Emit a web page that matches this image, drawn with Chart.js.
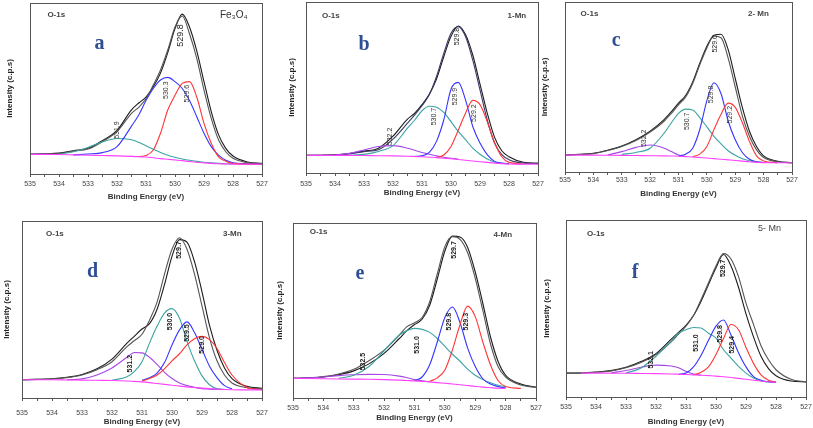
<!DOCTYPE html>
<html><head><meta charset="utf-8">
<script src="https://cdn.jsdelivr.net/npm/chart.js@4.4.1/dist/chart.umd.min.js"></script>
<style>
html,body{margin:0;padding:0;background:#fff;width:813px;height:428px;overflow:hidden;position:relative}
canvas{position:absolute}
</style></head><body>
<canvas id="pa"></canvas><canvas id="pb"></canvas><canvas id="pc"></canvas>
<canvas id="pd"></canvas><canvas id="pe"></canvas><canvas id="pf"></canvas>
<script>
// Binding energy grid (eV)
const energy = [535,534.5,534,533.5,533,532.5,532,531.5,531.25,531,530.75,530.5,530.25,530,529.75,529.5,529.25,529,528.75,528.5,528.25,528,527.5,527];
const tickLabels = [535,534,533,532,531,530,529,528,527];
const _ = null;

// Panel a: Fe3O4
const aBackground = [11.5,11.5,11.4,11.2,11.0,10.8,10.6,10.3,10.1,9.9,9.5,9.0,8.6,8.2,7.8,7.3,6.9,6.5,6.2,6.0,5.9,5.8,5.7,5.7];
const aPeak531_9 = [_,_,11.6,13,15.5,18.8,20.8,20,18.5,16.5,14.5,12.6,11,9.8,8.8,8,7.4,6.9,6.5,6.2,6.0,5.9,_,_];
const aPeak530_3 = [_,_,_,11.2,11.7,12.5,16,28,34.5,43,50,55,56.5,54,50,43,33.5,23.8,16,11,8,6.6,6,5.8];
const aPeak529_6 = [_,_,_,_,_,_,_,10.3,10.2,10.8,14,23.8,37.4,46,53,54,45,29.6,18,10,7.5,6.2,5.8,5.7];
const aFit = [11.5,11.7,12,13.4,14.6,19,24.8,35.5,39,44,52,60.8,72.5,86,92.4,82,67.6,49,32.5,20,13,9.2,6.6,6];
const aExp = [11.6,11.8,12.2,13.6,15,19.5,25.5,37.5,41.5,45,51,59,71,85,93.5,86,72,54,36.5,23,15,10.5,7,6.2];

// Panel b: 1-Mn
const bBackground = [10.3,10.3,10.3,10.3,10.2,10.1,10.0,9.8,9.65,9.5,9.25,9.0,8.65,8.3,7.9,7.5,7.05,6.6,6.2,5.8,5.5,5.3,5.2,5.2];
const bPeak532_2 = [_,_,10.5,11.5,13.5,15.5,16,14.5,13.3,12,11,10,9.2,8.6,8.1,_,_,_,_,_,_,_,_,_];
const bPeak530_7 = [_,_,_,10.4,10.9,12.6,16,26.3,31,36.4,39,38.5,35.4,30,24.3,19.5,14.6,11,8.2,6.4,5.7,5.4,_,_];
const bPeak529_9 = [_,_,_,_,_,_,_,_,9.7,10,12,18.5,31,49,53,42.8,27.2,17.5,10.7,6.8,5.8,5.4,_,_];
const bPeak529_2 = [_,_,_,_,_,_,_,_,_,_,_,9,10.5,15.5,25,35,42.5,40,30,18,9.5,6.2,5.3,_];
const bFit = [10.3,10.4,10.5,11.2,12.5,13.6,19.8,29.2,34,39.3,45.7,56.4,70,81.7,85.6,79.8,66,48.6,31,17.5,10.7,7.8,5.8,5.5];
const bExp = [10.3,10.4,10.6,11.4,12.8,14.5,21.5,31.5,35,40,46,55,68,80,86,81,69,52,35,21,13,9.5,6.3,5.8];

// Panel c: 2-Mn
const cBackground = [9.9,9.9,9.9,9.85,9.8,9.7,9.6,9.5,9.4,9.3,9.05,8.8,8.5,8.2,7.85,7.5,7.15,6.8,6.4,6.0,5.75,5.5,5.4,5.4];
const cPeak532_2 = [_,_,_,10,12,14.5,15.9,14,12,10,9.2,_,_,_,_,_,_,_,_,_,_,_,_,_];
const cPeak530_7 = [_,_,_,_,10.3,11.5,14,23,29,34.5,37,36.5,32,26.5,21,16.5,12.5,9.8,7.8,6.6,6,5.6,_,_];
const cPeak529_8 = [_,_,_,_,_,_,_,_,_,9.5,10.5,14,25,42,52.5,46,30,19,11.5,7.5,6,5.6,_,_];
const cPeak529_2 = [_,_,_,_,_,_,_,_,_,_,_,9,10.5,15,25,34,40.5,38,29,18,9.5,6.5,5.5,_];
const cFit = [9.9,10.3,10.8,12.6,15,18.5,23.5,30,34.5,39.5,44,52,63,73,80,79,67,50,33,21,13,8.5,6,5.4];
const cExp = [9.9,10.4,11,12.8,15.3,19,24,31,35.5,40.5,45,53,64,74,80.5,81,72,55,38,24,15,9.5,6.3,5.5];

// Panel d: 3-Mn
const dBackground = [10.3,10.3,10.3,10.2,10.1,10.0,9.9,9.6,9.4,9.1,8.7,8.2,7.7,7.2,6.7,6.3,5.9,5.6,5.3,5.0,4.8,4.7,4.6,4.6];
const dPeak531_2 = [_,_,_,10.3,10.8,13,17,23,25.7,25.5,23,19,14.5,11,8.5,7,6,5.3,5,4.8,_,_,_,_];
const dPeak530_0 = [_,_,_,_,_,_,10,12,15,20.5,31,40.5,48,50.5,45,32,21,12.5,7.5,5.3,4.9,_,_,_];
const dPeak529_5 = [_,_,_,_,_,_,_,_,_,10,11.5,14,20,30,38.5,43,37,27.5,18,11.5,7,5.2,_,_];
const dPeak529_0 = [_,_,_,_,_,_,_,_,_,9.5,11,13,16.5,21,25,30,33.5,34.8,33,28,20,13,6,4.7];
const dFit = [10.3,10.5,10.8,11.5,13,16,20.5,29,32.5,36,44,54,70,84,90.5,84,70,52,34,21,13,8.5,5.8,5.2];
const dExp = [10.3,10.5,10.9,11.7,13.3,16.5,22,31,35,39,42,50,64,80,89.5,88,77,60,41,27,17,11,6.6,5.5];

// Panel e: 4-Mn
const eBackground = [11.2,11.1,11.0,10.9,10.8,10.7,10.5,10.2,10,9.8,9.5,9.2,8.8,8.4,8,7.6,7.1,6.6,6.2,5.9,5.6,5.5,_,_];
const ePeak532_5 = [11.2,11.5,12,12.8,13.3,13.5,13.4,12.5,11.6,10.5,9.8,9.3,_,_,_,_,_,_,_,_,_,_,_,_];
const ePeak531_0 = [_,_,_,11.2,13,18,27,36,38.5,39.8,39.2,37.5,34,29.5,25,21,16.5,13,10.5,8.7,7.3,6.5,_,_];
const ePeak529_8 = [_,_,_,_,_,_,_,_,_,10,12,19,32,46,52,43,28.5,18,11,8,6.5,5.8,_,_];
const ePeak529_3 = [_,_,_,_,_,_,_,_,_,_,_,9.5,11.5,16,27.5,42,52.5,46.5,32,19,10,6.6,5.5,_];
const eFit = [11.2,11.5,12.2,13.7,16.4,21.3,27.4,36,40.8,43,46,55,71,86.5,92.2,90.7,83,68.4,50,31,18,12,7.4,6];
const eExp = [11.2,11.5,12,13.3,15.5,19.5,25.5,34,38.5,42,45,53,68,84,92.5,92,86,72,54,35,21,13,8,6.3];

// Panel f: 5-Mn
const fBackground = [_,13.5,13.5,13.45,13.4,13.3,13.2,13,12.85,12.7,12.5,12.3,12.05,11.8,11.4,11,10.5,10,9.5,9,8.6,8.3,_,_];
const fPeak532_1 = [_,_,_,13.6,15,16.8,18,17.5,16.5,14.5,13,12.4,_,_,_,_,_,_,_,_,_,_,_,_];
const fPeak531_0 = [_,_,_,_,13.5,16.4,23,31.4,36,38,39.3,39,36,33.3,26.7,22,17.3,13.5,10.7,9,8.5,8.3,_,_];
const fPeak529_8 = [_,_,_,_,_,_,_,_,12.8,13.5,17,23.5,32,40,43.5,35,25,17,11.5,9.5,8.7,8.3,_,_];
const fPeak529_4 = [_,_,_,_,_,_,_,_,_,_,12.5,14,17,24,33,41,38,28,19,12.5,9.5,8.4,_,_];
const fFit = [13.5,13.5,14,14.7,16.5,19.5,24,31,35.5,40,46,55,64.5,74,81,78,68,53,41,29,21,15.4,10,8.5];
const fExp = [13.5,13.6,14.1,14.9,16.8,20,24.5,32.5,36.5,40.5,46,54,63.5,73,80.5,74,62,47,34,23,16,12,9,8.5];

const FONT = "'Liberation Sans', Arial, sans-serif";
const SERIF = "'Liberation Serif', 'DejaVu Serif', serif";
const C = {exp:'#1c1c1c', fit:'#555555', blue:'#3535ff', red:'#ff3535', teal:'#3da3a3', purple:'#a647e6', mag:'#ff40ff'};

const panels = [
 {id:'pa', left:0, top:1, w:270, h:201, padL:30, padT:2, padR:8, padB:28, tickPad:2.5, yPad:5,
  series:[[aBackground,C.mag],[aPeak529_6,C.red],[aPeak530_3,C.blue],[aPeak531_9,C.teal],[aFit,C.fit],[aExp,C.exp]],
  notes:[['O-1s',534.4,93,0,'bold 8px','#444','left'],['Fe₃O₄',528.45,93,0,'10px','#333','left'],
         ['a',532.6,76,0,'bold 20px','#2f4f94','center',SERIF],
         ['529.8',529.8,81,1,'9px','#222','center'],['530.3',530.3,49,1,'7px','#333','center'],
         ['529.6',529.6,47,1,'7px','#333','center'],['531.9',532.0,25.7,1,'7px','#333','center']]},
 {id:'pb', left:280, top:0, w:266, h:198, padL:26, padT:2, padR:8, padB:25, tickPad:3.5, yPad:7,
  series:[[bBackground,C.mag],[bPeak529_2,C.red],[bPeak529_9,C.blue],[bPeak530_7,C.teal],[bPeak532_2,C.purple],[bFit,'#3a3a6a'],[bExp,C.exp]],
  notes:[['O-1s',534.45,92,0,'bold 8px','#444','left'],['1-Mn',528.05,92,0,'bold 8px','#444','left'],
         ['b',533,75,0,'bold 20px','#2f4f94','center',SERIF],
         ['529.8',529.8,79.8,1,'7px','#222','center'],['529.9',529.85,44.7,1,'7px','#333','center'],
         ['529.2',529.2,35,1,'7px','#333','center'],['530.7',530.6,33,1,'7px','#333','center'],['532.2',532.1,21.4,1,'7px','#333','center']]},
 {id:'pc', left:540, top:0, w:260, h:199, padL:25, padT:2, padR:8, padB:27, tickPad:0.5, yPad:0,
  series:[[cBackground,C.mag],[cPeak529_2,C.red],[cPeak529_8,C.blue],[cPeak530_7,C.teal],[cPeak532_2,C.purple],[cFit,C.fit],[cExp,C.exp]],
  notes:[['O-1s',534.45,93,0,'bold 8px','#444','left'],['2- Mn',528.55,93,0,'bold 8px','#444','left'],
         ['c',533.2,77.4,0,'bold 20px','#2f4f94','center',SERIF],
         ['529.6',529.7,75.4,1,'7px','#222','center'],['529.8',529.85,45.6,1,'7px','#333','center'],
         ['529.2',529.2,33.7,1,'7px','#333','center'],['530.7',530.7,29.8,1,'7px','#333','center'],['532.2',532.2,19.8,1,'7px','#333','center']]},
 {id:'pd', left:0, top:216, w:270, h:211, padL:22, padT:5, padR:8, padB:29, tickPad:7.5, yPad:2,
  series:[[dBackground,C.mag],[dPeak529_0,C.red],[dPeak529_5,C.blue],[dPeak530_0,C.teal],[dPeak531_2,C.purple],[dFit,C.fit],[dExp,C.exp]],
  notes:[['O-1s',534.2,93,0,'bold 8px','#444','left'],['3-Mn',528.3,93,0,'bold 8px','#444','left'],
         ['d',532.65,71.4,0,'bold 20px','#2f4f94','center',SERIF],
         ['529.7',529.75,83.6,1,'bold 7px','#222','center'],['530.0',530.05,43.2,1,'bold 7px','#222','center'],
         ['529.5',529.5,36.7,1,'bold 7px','#222','center'],['529.0',529.0,30,1,'bold 7px','#222','center'],['531.2',531.4,19.4,1,'bold 7px','#222','center']]},
 {id:'pe', left:270, top:218, w:274, h:205, padL:23, padT:5, padR:8, padB:25, tickPad:2.5, yPad:5,
  series:[[eBackground,C.mag],[ePeak529_3,C.red],[ePeak529_8,C.blue],[ePeak531_0,C.teal],[ePeak532_5,C.purple],[eFit,C.fit],[eExp,C.exp]],
  notes:[['O-1s',534.45,95,0,'bold 8px','#444','left'],['4-Mn',528.4,93.5,0,'bold 8px','#444','left'],
         ['e',532.8,71,0,'bold 20px','#2f4f94','center',SERIF],
         ['529.7',529.7,84.6,1,'bold 7px','#222','center'],['529.8',529.85,43.6,1,'bold 7px','#222','center'],
         ['529.3',529.3,43.6,1,'bold 7px','#222','center'],['531.0',530.9,30.3,1,'bold 7px','#222','center'],['532.5',532.7,20.8,1,'bold 7px','#222','center']]},
 {id:'pf', left:540, top:215, w:273, h:212, padL:26, padT:5, padR:7, padB:30, tickPad:2.5, yPad:2,
  series:[[fBackground,C.mag],[fPeak529_4,C.red],[fPeak529_8,C.blue],[fPeak531_0,C.teal],[fPeak532_1,C.purple],[fFit,C.fit],[fExp,C.exp]],
  notes:[['O-1s',534.3,92,0,'bold 8px','#444','left'],['5- Mn',528.6,95,0,'9px','#444','left'],
         ['f',532.7,70,0,'bold 20px','#2f4f94','center',SERIF],
         ['529.7',529.75,72.7,1,'bold 7px','#222','center'],['529.8',529.85,35.7,1,'bold 7px','#222','center'],
         ['529.4',529.45,29.5,1,'bold 7px','#222','center'],['531.0',530.65,30.5,1,'bold 7px','#222','center'],['532.1',532.15,21,1,'bold 7px','#222','center']]}
];

function decorPlugin(p){
  return {
    id:'decor_'+p.id,
    afterDraw(chart){
      const ctx = chart.ctx, a = chart.chartArea, xs = chart.scales.x, ys = chart.scales.y;
      ctx.save();
      ctx.strokeStyle = '#555'; ctx.lineWidth = 1;
      ctx.strokeRect(Math.round(a.left)+0.5, Math.round(a.top)+0.5, Math.round(a.right-a.left), Math.round(a.bottom-a.top));
      p.notes.forEach(n => {
        const [t, ex, ey, rot, f, col, align, fam] = n;
        const px = xs.getPixelForValue(ex), py = ys.getPixelForValue(ey);
        ctx.save();
        ctx.font = f + ' ' + (fam || FONT);
        ctx.fillStyle = col; ctx.textAlign = align; ctx.textBaseline = 'middle';
        ctx.translate(px, py);
        if (rot) ctx.rotate(-Math.PI/2);
        ctx.fillText(t, 0, 0);
        ctx.restore();
      });
      ctx.restore();
    }
  };
}

panels.forEach(p => {
  const cv = document.getElementById(p.id);
  cv.width = p.w; cv.height = p.h;
  cv.style.left = p.left + 'px'; cv.style.top = p.top + 'px';
  const datasets = p.series.map(([vals, color]) => ({
    data: energy.map((e, i) => ({x: e, y: vals[i]})),
    borderColor: color, borderWidth: 1.1, pointRadius: 0, fill: false,
    tension: 0.4, cubicInterpolationMode: 'monotone', spanGaps: false
  }));
  new Chart(cv, {
    type: 'line',
    data: {datasets},
    options: {
      responsive: false, animation: false, events: [],
      layout: {padding: {left: 0, top: p.padT, right: p.padR, bottom: 0}},
      plugins: {legend: {display: false}, tooltip: {enabled: false}},
      scales: {
        x: {
          type: 'linear', min: 527, max: 535, reverse: true,
          afterFit: s => { s.height = p.padB; },
          afterBuildTicks: s => { s.ticks = []; for (let v = 527; v <= 535; v += 0.5) s.ticks.push({value: v}); },
          grid: {drawOnChartArea: false, drawTicks: true, tickLength: 3, color: '#555'},
          border: {display: false},
          ticks: {autoSkip: false, maxRotation: 0, padding: p.tickPad, color: '#444',
                  font: {size: 7, family: FONT},
                  callback: v => tickLabels.includes(v) ? String(v) : ''},
          title: {display: true, text: 'Binding Energy (eV)', color: '#333',
                  font: {size: 8, weight: 'bold', family: FONT}, padding: {top: 0, bottom: 0}}
        },
        y: {
          min: 0, max: 100,
          afterFit: s => { s.width = p.padL; },
          grid: {display: false}, border: {display: false}, ticks: {display: false},
          title: {display: true, text: 'Intensity (c.p.s)', color: '#222',
                  font: {size: 8, weight: 'bold', family: FONT}, padding: {top: p.yPad, bottom: 0}}
        }
      }
    },
    plugins: [decorPlugin(p)]
  });
});
</script>
</body></html>
